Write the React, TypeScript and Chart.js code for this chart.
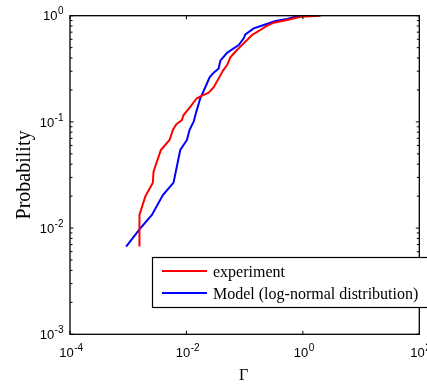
import React, { useEffect, useRef } from "react";
import { Chart, registerables } from "chart.js";

Chart.register(...registerables);

// Experiment (red) CDF samples
const expX = [1.56e-3, 1.56e-3, 1.96e-3, 2.65e-3, 2.72e-3, 3.64e-3, 5.13e-3, 5.86e-3, 6.68e-3, 8.36e-3, 8.94e-3, 0.0119, 0.0151, 0.0185, 0.0241, 0.0294, 0.0358, 0.0425, 0.0499, 0.0568, 0.0692, 0.0843, 0.110, 0.134, 0.175, 0.228, 0.316, 0.537, 0.912, 2.01];
const expY = [0.0067, 0.0133, 0.0198, 0.0268, 0.034, 0.0544, 0.0676, 0.0839, 0.0949, 0.104, 0.116, 0.141, 0.167, 0.177, 0.188, 0.212, 0.257, 0.304, 0.343, 0.405, 0.458, 0.511, 0.59, 0.658, 0.718, 0.788, 0.859, 0.91, 0.978, 1.0];

// Model (blue) CDF samples
const modX = [9.2e-4, 1.56e-3, 2.55e-3, 3.94e-3, 6.01e-3, 7.83e-3, 0.0102, 0.0113, 0.0133, 0.0148, 0.0173, 0.0211, 0.025, 0.0294, 0.0358, 0.0382, 0.0499, 0.0649, 0.0791, 0.0964, 0.103, 0.143, 0.213, 0.339, 0.537, 0.798, 1.45];
const modY = [0.0067, 0.00975, 0.0133, 0.0205, 0.0268, 0.0544, 0.0676, 0.0839, 0.1005, 0.125, 0.167, 0.212, 0.263, 0.291, 0.319, 0.377, 0.448, 0.493, 0.53, 0.612, 0.667, 0.76, 0.817, 0.891, 0.93, 0.99, 1.0];

const xTickExps = [-4, -2, 0, 2];
const yTickExps = [0, -1, -2, -3];
const seriesLabels = ["experiment", "Model (log-normal distribution)"];
const seriesColors = ["#ff0000", "#0000ff"];
const xTitle = "Γ";
const yTitle = "Probability";

const SANS = '"Liberation Sans", Arial, sans-serif';
const SERIF = '"Liberation Serif", "Times New Roman", serif';

function drawPow(ctx: CanvasRenderingContext2D, exp: number, x: number, baseline: number, align: "right" | "center") {
  const base = "10";
  const sup = String(exp);
  ctx.font = `13px ${SANS}`;
  const wb = ctx.measureText(base).width;
  ctx.font = `10px ${SANS}`;
  const ws = ctx.measureText(sup).width;
  const total = wb + ws;
  const start = align === "right" ? x - total : x - total / 2;
  ctx.textAlign = "left";
  ctx.textBaseline = "alphabetic";
  ctx.fillStyle = "#000";
  ctx.font = `13px ${SANS}`;
  ctx.fillText(base, start, baseline);
  ctx.font = `10px ${SANS}`;
  ctx.fillText(sup, start + wb + 0.5, baseline - 6);
}

const decorPlugin = {
  id: "decor",
  afterDraw(chart: any) {
    const ctx: CanvasRenderingContext2D = chart.ctx;
    const { left, right, top, bottom } = chart.chartArea;
    const xs = chart.scales.x;
    const ys = chart.scales.y;
    ctx.save();
    // frame
    ctx.strokeStyle = "#000";
    ctx.lineWidth = 1.3;
    ctx.strokeRect(left, top, right - left, bottom - top);
    // y ticks (major + minor), both sides
    ctx.lineWidth = 1;
    for (let e = -3; e <= 0; e++) {
      for (let m = 1; m <= 9; m++) {
        const v = m * Math.pow(10, e);
        if (v > 1.0001) continue;
        const py = ys.getPixelForValue(v);
        const len = m === 1 ? 3.5 : 2.5;
        ctx.beginPath();
        ctx.moveTo(left, py);
        ctx.lineTo(left + len, py);
        ctx.moveTo(right, py);
        ctx.lineTo(right - len, py);
        ctx.stroke();
      }
    }
    // x ticks (major only), both sides
    for (const e of xTickExps) {
      const px = xs.getPixelForValue(Math.pow(10, e));
      ctx.beginPath();
      ctx.moveTo(px, bottom);
      ctx.lineTo(px, bottom - 3.5);
      ctx.moveTo(px, top);
      ctx.lineTo(px, top + 3.5);
      ctx.stroke();
    }
    // tick labels
    for (const e of yTickExps) {
      const py = ys.getPixelForValue(Math.pow(10, e));
      drawPow(ctx, e, left - 7, py + 4.6, "right");
    }
    for (const e of xTickExps) {
      const px = xs.getPixelForValue(Math.pow(10, e));
      drawPow(ctx, e, px + 1, bottom + 22.5, "center");
    }
    // axis titles
    ctx.fillStyle = "#000";
    ctx.font = `16px ${SERIF}`;
    ctx.textAlign = "center";
    ctx.textBaseline = "alphabetic";
    ctx.fillText(xTitle, (left + right) / 2 - 1, 380);
    ctx.save();
    ctx.translate(30, (top + bottom) / 2);
    ctx.rotate(-Math.PI / 2);
    ctx.font = `20px ${SERIF}`;
    ctx.fillText(yTitle, 0, 0);
    ctx.restore();
    // legend box
    const lx = 152.5, ly = 257.5, lw = 300, lh = 50;
    ctx.fillStyle = "#fff";
    ctx.fillRect(lx, ly, lw, lh);
    ctx.strokeStyle = "#000";
    ctx.lineWidth = 1.2;
    ctx.strokeRect(lx, ly, lw, lh);
    const rows = [271, 293];
    seriesLabels.forEach((lab, i) => {
      ctx.strokeStyle = seriesColors[i];
      ctx.lineWidth = 2;
      ctx.beginPath();
      ctx.moveTo(162, rows[i]);
      ctx.lineTo(207, rows[i]);
      ctx.stroke();
      ctx.fillStyle = "#000";
      ctx.font = `16px ${SERIF}`;
      ctx.textAlign = "left";
      ctx.textBaseline = "alphabetic";
      ctx.fillText(lab, 213, rows[i] + 6);
    });
    ctx.restore();
  },
};

export default function App() {
  const ref = useRef<HTMLCanvasElement | null>(null);
  useEffect(() => {
    if (!ref.current) return;
    const chart = new Chart(ref.current, {
      type: "line",
      data: {
        datasets: [
          {
            label: seriesLabels[0],
            data: expX.map((x, i) => ({ x, y: expY[i] })),
            borderColor: seriesColors[0],
            borderWidth: 2,
            pointRadius: 0,
            tension: 0,
            fill: false,
          },
          {
            label: seriesLabels[1],
            data: modX.map((x, i) => ({ x, y: modY[i] })),
            borderColor: seriesColors[1],
            borderWidth: 2,
            pointRadius: 0,
            tension: 0,
            fill: false,
          },
        ],
      },
      options: {
        animation: false,
        responsive: false,
        devicePixelRatio: 1,
        layout: { padding: { left: 70, top: 15.7, right: 7.7, bottom: 50.7 } },
        plugins: { legend: { display: false }, tooltip: { enabled: false } },
        scales: {
          x: { type: "logarithmic", min: 1e-4, max: 1e2, display: false },
          y: { type: "logarithmic", min: 1e-3, max: 1, display: false },
        },
      },
      plugins: [decorPlugin],
    });
    return () => chart.destroy();
  }, []);
  return (
    <div style={{ position: "absolute", left: 0, top: 0, width: 427, height: 385, background: "#fff" }}>
      <canvas ref={ref} width={427} height={385} />
    </div>
  );
}
